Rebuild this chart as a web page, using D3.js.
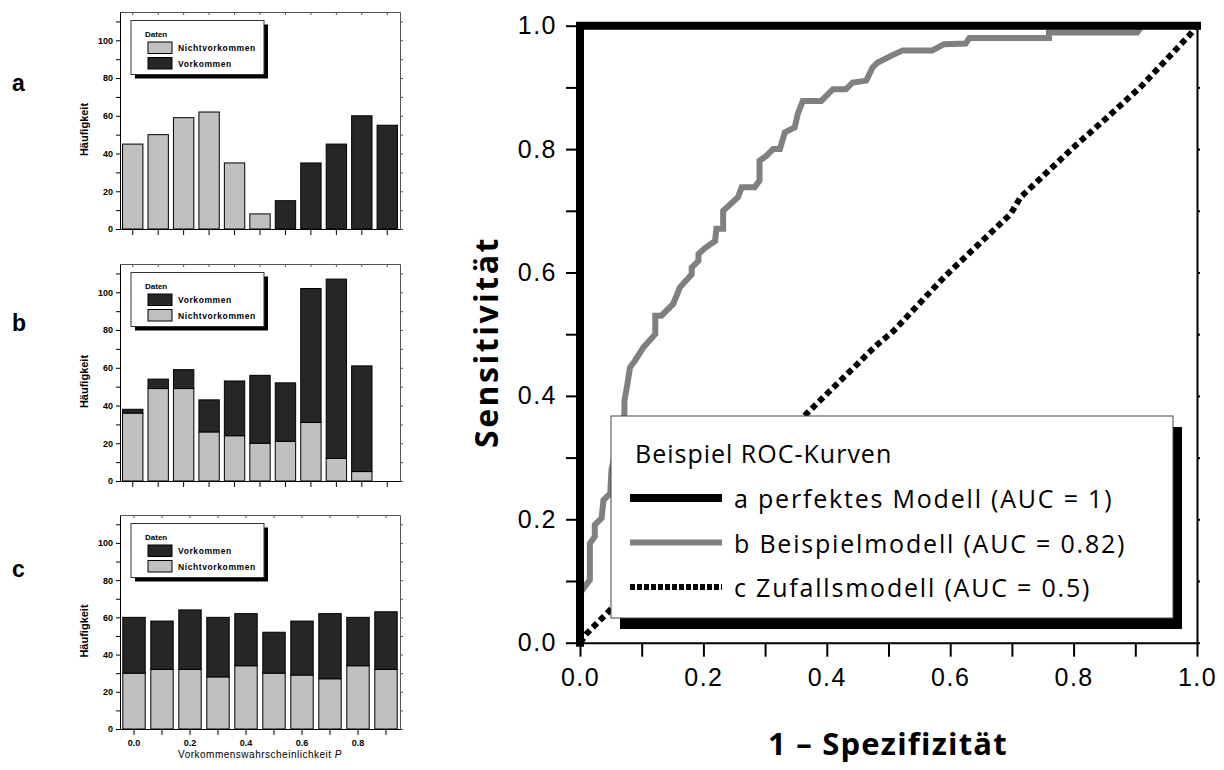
<!DOCTYPE html>
<html>
<head>
<meta charset="utf-8">
<script src="https://cdn.jsdelivr.net/npm/d3@7"></script>
<style>
  body { margin: 0; background: #fff; }
  svg { display: block; }
  .hist-text { font-family: "Liberation Sans", Arial, sans-serif; font-weight: bold; }
  .roc-text { font-family: "Open Sans", "Noto Sans", sans-serif; }
</style>
</head>
<body>
<svg id="chart" width="1224" height="770"></svg>
<script>
// histogram bins (Vorkommenswahrscheinlichkeit P)
const binsAB = ["0.0", "0.1", "0.2", "0.3", "0.4", "0.5", "0.6", "0.7", "0.8", "0.9", "1.0"];
const binsC = ["0.0", "0.1", "0.2", "0.3", "0.4", "0.5", "0.6", "0.7", "0.8", "0.9"];
const labelledBins = ["0.0", "0.2", "0.4", "0.6", "0.8"];
const histTicks = [0, 10, 20, 30, 40, 50, 60, 70, 80, 90, 100, 110];

const aNichtvorkommen = [45, 50, 59, 62, 35, 8, 0, 0, 0, 0, 0];
const aVorkommen = [0, 0, 0, 0, 0, 0, 15, 35, 45, 60, 55];
const bNichtvorkommen = [36, 49, 49, 26, 24, 20, 21, 31, 12, 5, 0];
const bVorkommen = [2, 5, 10, 17, 29, 36, 31, 71, 95, 56, 0];
const cNichtvorkommen = [30, 32, 32, 28, 34, 30, 29, 27, 34, 32];
const cVorkommen = [30, 26, 32, 32, 28, 22, 29, 35, 26, 31];

// ROC curves: [1 - Spezifitaet, Sensitivitaet]
const rocTicks = [0, 0.1, 0.2, 0.3, 0.4, 0.5, 0.6, 0.7, 0.8, 0.9, 1.0];
const perfectModel = [[0, 0], [0, 1], [1, 1]];
const exampleModel = [
  [0, 0], [0, 0.08], [0.008, 0.091], [0.016, 0.102], [0.016, 0.161], [0.024, 0.172],
  [0.024, 0.191], [0.035, 0.202], [0.038, 0.231], [0.049, 0.242], [0.051, 0.28],
  [0.058, 0.31], [0.065, 0.34], [0.072, 0.371], [0.072, 0.392], [0.077, 0.42],
  [0.081, 0.446], [0.089, 0.457], [0.103, 0.479], [0.122, 0.5], [0.122, 0.53],
  [0.132, 0.53], [0.151, 0.549], [0.162, 0.576], [0.181, 0.597], [0.181, 0.608],
  [0.192, 0.619], [0.192, 0.63], [0.203, 0.64], [0.219, 0.651], [0.221, 0.671],
  [0.232, 0.671], [0.232, 0.7], [0.256, 0.722], [0.262, 0.738], [0.283, 0.738],
  [0.291, 0.749], [0.291, 0.781], [0.302, 0.789], [0.313, 0.8], [0.324, 0.8],
  [0.332, 0.827], [0.348, 0.835], [0.353, 0.857], [0.361, 0.878], [0.391, 0.878],
  [0.402, 0.889], [0.41, 0.897], [0.431, 0.897], [0.442, 0.908], [0.464, 0.911],
  [0.474, 0.932], [0.482, 0.94], [0.504, 0.951], [0.523, 0.96], [0.571, 0.96],
  [0.59, 0.97], [0.625, 0.971], [0.631, 0.98], [0.76, 0.98], [0.76, 0.989],
  [0.903, 0.989], [0.911, 1.0], [1, 1]
];
const randomModel = [
  [0, 0], [0.011, 0.015], [0.049, 0.053], [0.1, 0.098], [0.2, 0.192], [0.3, 0.29],
  [0.367, 0.371], [0.45, 0.452], [0.477, 0.479], [0.509, 0.506], [0.585, 0.587],
  [0.601, 0.603], [0.698, 0.695], [0.714, 0.722], [0.8, 0.803], [0.854, 0.851],
  [0.908, 0.9], [0.989, 0.986], [1, 1]
];
const rocLegendTitle = "Beispiel ROC-Kurven";
const rocLegendLabels = [
  "a perfektes Modell (AUC = 1)",
  "b Beispielmodell (AUC = 0.82)",
  "c Zufallsmodell (AUC = 0.5)"
];

const colorNicht = "#c0c0c0";
const colorVork = "#262626";

class VisHistogram {
  constructor(svg, config) {
    this.svg = svg;
    Object.assign(this, config);
    this.setup();
    this.scaffold();
    this.render();
  }

  setup() {
    this.left = 120;
    this.right = 400;
    this.x = d3
      .scaleBand()
      .domain(this.bins)
      .range([this.left, this.right])
      .paddingInner(0.2)
      .paddingOuter(0.1);
    this.y = d3.scaleLinear().domain([0, 115]).range([this.bottom, this.top]);
    this.color = { nicht: colorNicht, vork: colorVork };
    this.stacked = d3.stack().keys(["nicht", "vork"])(
      this.bins.map((b, i) => ({ bin: b, nicht: this.nicht[i], vork: this.vork[i] }))
    );
  }

  scaffold() {
    this.g = this.svg.append("g").attr("class", "hist-text");
    this.gBars = this.g.append("g");
    this.gFrame = this.g.append("g");
    this.gY = this.g.append("g");
    this.gX = this.g.append("g");
    this.gLegend = this.g.append("g");
  }

  render() {
    this.gBars
      .selectAll("g")
      .data(this.stacked)
      .join("g")
      .attr("fill", (d) => this.color[d.key])
      .selectAll("rect")
      .data((d) => d.filter((s) => s[1] > s[0]))
      .join("rect")
      .attr("x", (d) => this.x(d.data.bin))
      .attr("width", this.x.bandwidth())
      .attr("y", (d) => this.y(d[1]))
      .attr("height", (d) => this.y(d[0]) - this.y(d[1]))
      .attr("stroke", "#000")
      .attr("stroke-width", 1);

    // top and right frame with small ticks
    this.gFrame
      .call((g) =>
        g.append("g")
          .attr("transform", `translate(0,${this.top})`)
          .call(d3.axisTop(this.x).tickSize(-3).tickSizeOuter(0).tickFormat(""))
      )
      .call((g) =>
        g.append("g")
          .attr("transform", `translate(${this.right},0)`)
          .call(d3.axisRight(this.y).tickValues(histTicks).tickSize(3).tickSizeOuter(0).tickFormat(""))
      )
      .call((g) => g.selectAll("path, line").attr("stroke", "#555"));

    this.gY
      .attr("transform", `translate(${this.left},0)`)
      .call(
        d3.axisLeft(this.y)
          .tickValues(histTicks)
          .tickSize(4)
          .tickSizeOuter(0)
          .tickPadding(3)
          .tickFormat((d) => (d % 20 === 0 && d <= 100 ? d : ""))
      )
      .call((g) => g.selectAll("text").attr("font-size", 9).attr("font-family", null))
      .call((g) =>
        g.append("text")
          .attr("fill", "#000")
          .attr("font-size", 11)
          .attr("text-anchor", "middle")
          .attr("transform", `translate(-32,${(this.top + this.bottom) / 2 + 9}) rotate(-90)`)
          .text("Häufigkeit")
      );

    this.gX
      .attr("transform", `translate(0,${this.bottom})`)
      .call(
        d3.axisBottom(this.x)
          .tickSize(6)
          .tickSizeOuter(0)
          .tickPadding(5)
          .tickFormat((d) => (this.showXLabels && labelledBins.includes(d) ? d : ""))
      )
      .call((g) => g.selectAll("text").attr("font-size", 9).attr("font-family", null));

    if (this.showXLabels) {
      this.gX
        .append("text")
        .attr("fill", "#000")
        .attr("font-weight", "normal")
        .attr("font-size", 10)
        .attr("letter-spacing", 0.5)
        .attr("text-anchor", "middle")
        .attr("x", (this.left + this.right) / 2)
        .attr("y", 29)
        .call((t) => t.append("tspan").text("Vorkommenswahrscheinlichkeit "))
        .call((t) => t.append("tspan").attr("font-style", "italic").text("P"));
    }

    // panel letter
    this.g
      .append("text")
      .attr("x", 12)
      .attr("y", this.top + this.letterOffset)
      .attr("font-size", 23)
      .text(this.letter);

    // legend
    const lx = 131;
    const ly = this.top + 8.5;
    this.gLegend.attr("transform", `translate(${lx},${ly})`);
    this.gLegend.append("rect").attr("x", 4).attr("y", 4).attr("width", 133).attr("height", 54).attr("fill", "#000");
    this.gLegend.append("rect").attr("width", 133).attr("height", 54).attr("fill", "#fff").attr("stroke", "#333");
    this.gLegend.append("text").attr("x", 14).attr("y", 16).attr("font-size", 8).text("Daten");
    this.gLegend
      .selectAll(".legend-item")
      .data(this.legendKeys)
      .join("g")
      .attr("class", "legend-item")
      .attr("transform", (d, i) => `translate(17,${21.5 + i * 15.5})`)
      .call((g) =>
        g.append("rect")
          .attr("width", 24)
          .attr("height", 11.5)
          .attr("fill", (d) => this.color[d])
          .attr("stroke", "#000")
      )
      .call((g) =>
        g.append("text")
          .attr("x", 30)
          .attr("y", 9)
          .attr("font-size", 8.5)
          .attr("letter-spacing", 0.6)
          .text((d) => (d === "nicht" ? "Nichtvorkommen" : "Vorkommen"))
      );
  }
}

class VisRoc {
  constructor(svg) {
    this.svg = svg;
    this.setup();
    this.scaffold();
    this.render();
  }

  setup() {
    this.x = d3.scaleLinear().domain([0, 1]).range([580, 1197]);
    this.y = d3.scaleLinear().domain([0, 1]).range([642.7, 25.7]);
    this.line = d3
      .line()
      .x((d) => this.x(d[0]))
      .y((d) => this.y(d[1]));
    this.fmt = (d) => (Math.round(d * 10) % 2 === 0 ? d3.format(".1f")(d) : "");
  }

  scaffold() {
    this.g = this.svg.append("g").attr("class", "roc-text");
    this.gAxes = this.g.append("g");
    this.gLines = this.g.append("g");
    this.gLegend = this.g.append("g");
  }

  render() {
    const [x0, x1] = this.x.range();
    const [y0, y1] = this.y.range();

    this.gAxes
      .call((g) =>
        g.append("g")
          .attr("transform", `translate(0,${y0})`)
          .call(d3.axisBottom(this.x).tickValues(rocTicks).tickSize(14).tickSizeOuter(0).tickPadding(12).tickFormat(this.fmt))
      )
      .call((g) =>
        g.append("g")
          .attr("transform", `translate(${x0},0)`)
          .call(d3.axisLeft(this.y).tickValues(rocTicks).tickSize(14).tickSizeOuter(0).tickPadding(9).tickFormat(this.fmt))
      )
      .call((g) =>
        g.append("g")
          .attr("transform", `translate(${x1},0)`)
          .call(d3.axisRight(this.y).tickValues(rocTicks).tickSize(3).tickSizeOuter(0).tickFormat(""))
      )
      .call((g) => g.selectAll("path, line").attr("stroke", "#000").attr("stroke-width", 2))
      .call((g) =>
        g.selectAll("text")
          .attr("font-family", null)
          .attr("font-size", 25)
          .attr("letter-spacing", 1.5)
          .attr("fill", "#000")
      );

    this.gAxes
      .append("text")
      .attr("font-size", 32)
      .attr("font-weight", "bold")
      .attr("letter-spacing", 2.5)
      .attr("text-anchor", "middle")
      .attr("transform", `translate(498,342) rotate(-90)`)
      .text("Sensitivität");

    this.gAxes
      .append("text")
      .attr("font-size", 31)
      .attr("font-weight", "bold")
      .attr("letter-spacing", 1.2)
      .attr("text-anchor", "middle")
      .attr("x", 888)
      .attr("y", 755)
      .text("1 – Spezifizität");

    this.gLines
      .append("path")
      .attr("d", this.line(randomModel))
      .attr("fill", "none")
      .attr("stroke", "#000")
      .attr("stroke-width", 6)
      .attr("stroke-dasharray", "6,4");

    this.gLines
      .append("path")
      .attr("d", this.line(exampleModel))
      .attr("fill", "none")
      .attr("stroke", "#808080")
      .attr("stroke-width", 6);

    this.gLines
      .append("path")
      .attr("d", this.line(perfectModel))
      .attr("fill", "none")
      .attr("stroke", "#000")
      .attr("stroke-width", 8)
      .attr("stroke-linecap", "square");

    // legend
    const lx = 611;
    const ly = 416;
    const lw = 562;
    const lh = 202;
    this.gLegend.attr("transform", `translate(${lx},${ly})`);
    this.gLegend.append("rect").attr("x", 9).attr("y", 11).attr("width", lw).attr("height", lh).attr("fill", "#000");
    this.gLegend.append("rect").attr("width", lw).attr("height", lh).attr("fill", "#fff").attr("stroke", "#444");
    this.gLegend
      .append("text")
      .attr("x", 24)
      .attr("y", 47)
      .attr("font-size", 25)
      .attr("letter-spacing", 1)
      .text(rocLegendTitle);

    const swatch = [
      { stroke: "#000", width: 8, dash: null },
      { stroke: "#808080", width: 6, dash: null },
      { stroke: "#000", width: 6, dash: "5,2" },
    ];
    this.gLegend
      .selectAll(".legend-item")
      .data(rocLegendLabels)
      .join("g")
      .attr("class", "legend-item")
      .attr("transform", (d, i) => `translate(19,${82 + i * 44.5})`)
      .call((g) =>
        g.append("line")
          .attr("x2", 92)
          .attr("stroke", (d, i) => swatch[i].stroke)
          .attr("stroke-width", (d, i) => swatch[i].width)
          .attr("stroke-dasharray", (d, i) => swatch[i].dash)
      )
      .call((g) =>
        g.append("text")
          .attr("x", 104)
          .attr("y", 10)
          .attr("font-size", 25)
          .attr("letter-spacing", 1.8)
          .text((d) => d)
      );
  }
}

const svg = d3.select("#chart");

new VisHistogram(svg, {
  letter: "a", top: 12, bottom: 229, letterOffset: 79,
  bins: binsAB, nicht: aNichtvorkommen, vork: aVorkommen,
  legendKeys: ["nicht", "vork"], showXLabels: false,
});
new VisHistogram(svg, {
  letter: "b", top: 264, bottom: 481, letterOffset: 67,
  bins: binsAB, nicht: bNichtvorkommen, vork: bVorkommen,
  legendKeys: ["vork", "nicht"], showXLabels: false,
});
new VisHistogram(svg, {
  letter: "c", top: 515, bottom: 729, letterOffset: 62,
  bins: binsC, nicht: cNichtvorkommen, vork: cVorkommen,
  legendKeys: ["vork", "nicht"], showXLabels: true,
});
new VisRoc(svg);
</script>
</body>
</html>
